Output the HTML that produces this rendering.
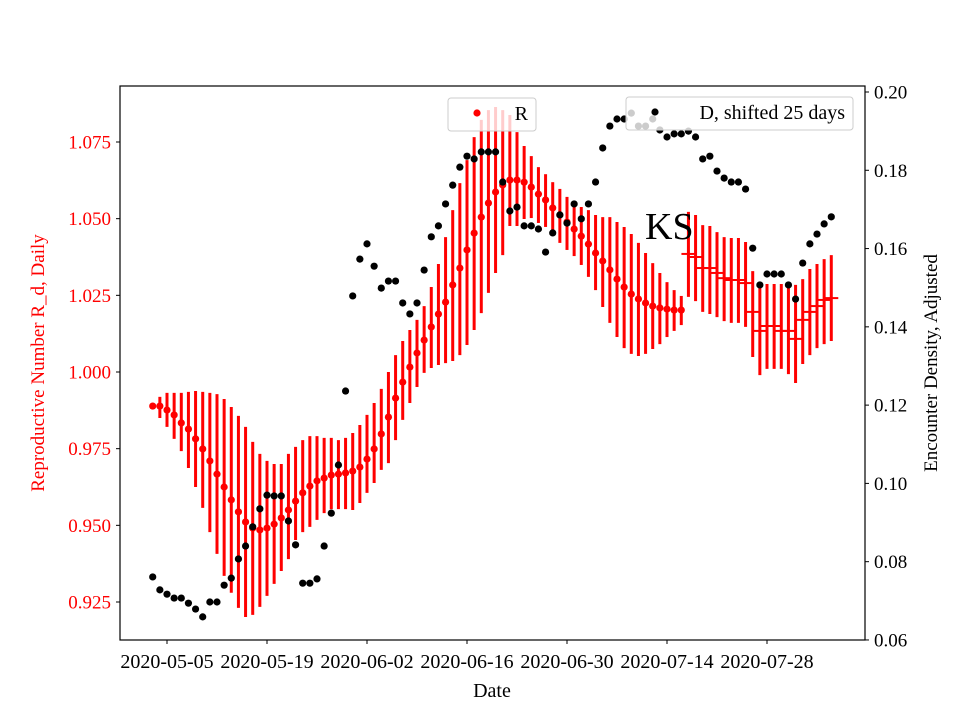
<!DOCTYPE html>
<html><head><meta charset="utf-8"><style>
body{margin:0;background:#fff}
svg text{font-family:"Liberation Serif","DejaVu Serif",serif}
</style></head><body>
<svg id="chart" width="960" height="720" xmlns="http://www.w3.org/2000/svg">
<rect width="960" height="720" fill="#fff"/>
<g id="plot"></g>
</svg>
<script>
// Day index 0 = 2020-05-03
const rDot = [0.9889,0.9889,0.9876,0.9860,0.9834,0.9814,0.9782,0.9749,0.9710,0.9667,0.9625,0.9583,0.9544,0.9511,0.9491,0.9485,0.9491,0.9504,0.9524,0.9550,0.9579,0.9606,0.9628,0.9645,0.9654,0.9664,0.9667,0.9671,0.9677,0.9690,0.9716,0.9749,0.9798,0.9853,0.9915,0.9967,1.0016,1.0062,1.0104,1.0147,1.0189,1.0228,1.0284,1.0339,1.0398,1.0453,1.0505,1.0551,1.0587,1.0610,1.0626,1.0626,1.0619,1.0603,1.0580,1.0561,1.0535,1.0512,1.0489,1.0466,1.0443,1.0417,1.0388,1.0362,1.0333,1.0303,1.0277,1.0254,1.0238,1.0225,1.0215,1.0209,1.0205,1.0202,1.0202];
const rDash = [1.0385,1.0375,1.0339,1.0339,1.0323,1.0306,1.0300,1.0300,1.0290,1.0196,1.0134,1.0150,1.0150,1.0134,1.0134,1.0108,1.0170,1.0196,1.0215,1.0235,1.0241];
const rHigh = [0.9889,0.9919,0.9932,0.9932,0.9932,0.9935,0.9938,0.9935,0.9932,0.9928,0.9912,0.9886,0.9857,0.9821,0.9772,0.9733,0.9710,0.9700,0.9700,0.9733,0.9756,0.9778,0.9791,0.9791,0.9785,0.9785,0.9778,0.9785,0.9801,0.9827,0.9860,0.9899,0.9945,1.0000,1.0055,1.0101,1.0137,1.0170,1.0215,1.0277,1.0352,1.0440,1.0528,1.0616,1.0691,1.0766,1.0822,1.0854,1.0864,1.0854,1.0838,1.0782,1.0737,1.0704,1.0668,1.0645,1.0619,1.0597,1.0571,1.0554,1.0538,1.0528,1.0512,1.0505,1.0505,1.0489,1.0473,1.0450,1.0421,1.0388,1.0355,1.0323,1.0293,1.0267,1.0248,1.0522,1.0512,1.0479,1.0476,1.0456,1.0440,1.0437,1.0437,1.0424,1.0329,1.0287,1.0287,1.0287,1.0287,1.0274,1.0284,1.0303,1.0336,1.0352,1.0368,1.0381];
const rLow = [0.9889,0.9850,0.9821,0.9782,0.9742,0.9687,0.9625,0.9557,0.9478,0.9407,0.9335,0.9280,0.9231,0.9201,0.9208,0.9234,0.9270,0.9309,0.9351,0.9390,0.9452,0.9478,0.9495,0.9518,0.9540,0.9553,0.9553,0.9553,0.9550,0.9573,0.9606,0.9638,0.9681,0.9703,0.9778,0.9844,0.9899,0.9951,0.9997,1.0013,1.0023,1.0029,1.0036,1.0055,1.0088,1.0137,1.0192,1.0258,1.0323,1.0381,1.0476,1.0476,1.0499,1.0502,1.0486,1.0473,1.0456,1.0421,1.0398,1.0378,1.0349,1.0310,1.0267,1.0212,1.0160,1.0114,1.0078,1.0059,1.0052,1.0059,1.0075,1.0091,1.0114,1.0134,1.0153,1.0245,1.0231,1.0196,1.0189,1.0179,1.0166,1.0160,1.0160,1.0147,1.0049,0.9990,1.0010,1.0010,1.0010,0.9993,0.9964,1.0026,1.0055,1.0078,1.0091,1.0101];
const dVals = [0.0761,0.0728,0.0717,0.0707,0.0707,0.0694,0.0679,0.0659,0.0697,0.0697,0.0740,0.0758,0.0807,0.0840,0.0889,0.0935,0.0970,0.0968,0.0968,0.0904,0.0843,0.0745,0.0745,0.0756,0.0840,0.0924,0.1047,0.1236,0.1479,0.1573,0.1612,0.1555,0.1499,0.1517,0.1517,0.1461,0.1433,0.1461,0.1545,0.1630,0.1658,0.1714,0.1762,0.1808,0.1836,0.1829,0.1847,0.1847,0.1847,0.1770,0.1696,0.1706,0.1658,0.1658,0.1650,0.1591,0.1640,0.1686,0.1665,0.1714,0.1676,0.1714,0.1770,0.1857,0.1913,0.1931,0.1931,0.1946,0.1913,0.1913,0.1931,0.1903,0.1885,0.1893,0.1893,0.1900,0.1885,0.1829,0.1836,0.1798,0.1780,0.1770,0.1770,0.1752,0.1601,0.1507,0.1535,0.1535,0.1535,0.1507,0.1471,0.1563,0.1612,0.1637,0.1663,0.1681];
const xTickDays = [2,16,30,44,58,72,86];
const xTickLabels = ["2020-05-05","2020-05-19","2020-06-02","2020-06-16","2020-06-30","2020-07-14","2020-07-28"];
const yLeftTicks = [0.925,0.950,0.975,1.000,1.025,1.050,1.075];
const yRightTicks = [0.06,0.08,0.10,0.12,0.14,0.16,0.18,0.20];

const L=120,R=865,T=86,B=640;
const xs = d => 167 + (d-2)*100/14;
const yl = v => 372 - (v-1.0)*3066.7;
const yr = v => 92 + (0.20-v)*3914;
const NS="http://www.w3.org/2000/svg";
const g=document.getElementById('plot');
function mk(tag,attrs,parent){const e=document.createElementNS(NS,tag);for(const k in attrs)e.setAttribute(k,attrs[k]);(parent||g).appendChild(e);return e;}

for(let i=0;i<rHigh.length;i++){
  const b=mk('line',{x1:xs(i),x2:xs(i),y1:yl(rHigh[i]),y2:yl(rLow[i]),stroke:'#ff0000','stroke-width':3});
  
  
}
for(let i=0;i<rDot.length;i++){
  const c=mk('circle',{cx:xs(i),cy:yl(rDot[i]),r:3.6,fill:'#ff0000'});
  
  
}
for(let j=0;j<rDash.length;j++){
  const d=rDot.length+j;
  const m=mk('line',{x1:xs(d)-7,x2:xs(d)+7,y1:yl(rDash[j]),y2:yl(rDash[j]),stroke:'#ff0000','stroke-width':2});
  
  
}
for(let i=0;i<dVals.length;i++){
  const c=mk('circle',{cx:xs(i),cy:yr(dVals[i]),r:3.6,fill:'#000'});
  
  
}
const ks=mk('text',{x:645,y:239,'font-size':38,fill:'#000'});ks.textContent='KS';



function legend(x,y,w,label,color,name){
  const lg=mk('g',{});
  
  
  mk('rect',{x:x,y:y,width:w,height:33,rx:3,fill:'#fff','fill-opacity':0.8,stroke:'#cccccc','stroke-width':1},lg);
  mk('circle',{cx:x+29,cy:y+15,r:3.6,fill:color},lg);
  const t=mk('text',{x:x+w-8,y:y+22,'font-size':20,'text-anchor':'end',fill:'#000'},lg);t.textContent=label;
}
legend(448,98,88,'R','#ff0000','legend-r');
legend(626,97,227,'D, shifted 25 days','#000000','legend-d');

const fr=mk('rect',{x:L,y:T,width:R-L,height:B-T,fill:'none',stroke:'#000','stroke-width':1.2});



xTickDays.forEach((d,k)=>{
  const x=xs(d);
  mk('line',{x1:x,x2:x,y1:B,y2:B+4,stroke:'#000'});
  const t=mk('text',{x:x,y:B+28,'font-size':20,'text-anchor':'middle',fill:'#000'});t.textContent=xTickLabels[k];
  
  
});
yLeftTicks.forEach(v=>{
  const y=yl(v);
  mk('line',{x1:L-4,x2:L,y1:y,y2:y,stroke:'#000'});
  const t=mk('text',{x:L-9,y:y+6.5,'font-size':19,'text-anchor':'end',fill:'#ff0000'});t.textContent=v.toFixed(3);
  
  
});
yRightTicks.forEach(v=>{
  const y=yr(v);
  mk('line',{x1:R,x2:R+4,y1:y,y2:y,stroke:'#000'});
  const t=mk('text',{x:R+9,y:y+6.5,'font-size':19,fill:'#000'});t.textContent=v.toFixed(2);
  
  
});
const xt=mk('text',{x:492,y:697,'font-size':20,'text-anchor':'middle',fill:'#000'});xt.textContent='Date';


const ylt=mk('text',{x:0,y:0,'font-size':19,'text-anchor':'middle',fill:'#ff0000',transform:'translate(44,363) rotate(-90)'});ylt.textContent='Reproductive Number R_d, Daily';


const yrt=mk('text',{x:0,y:0,'font-size':19,'text-anchor':'middle',fill:'#000',transform:'translate(937,363) rotate(-90)'});yrt.textContent='Encounter Density, Adjusted';


</script>
</body></html>
